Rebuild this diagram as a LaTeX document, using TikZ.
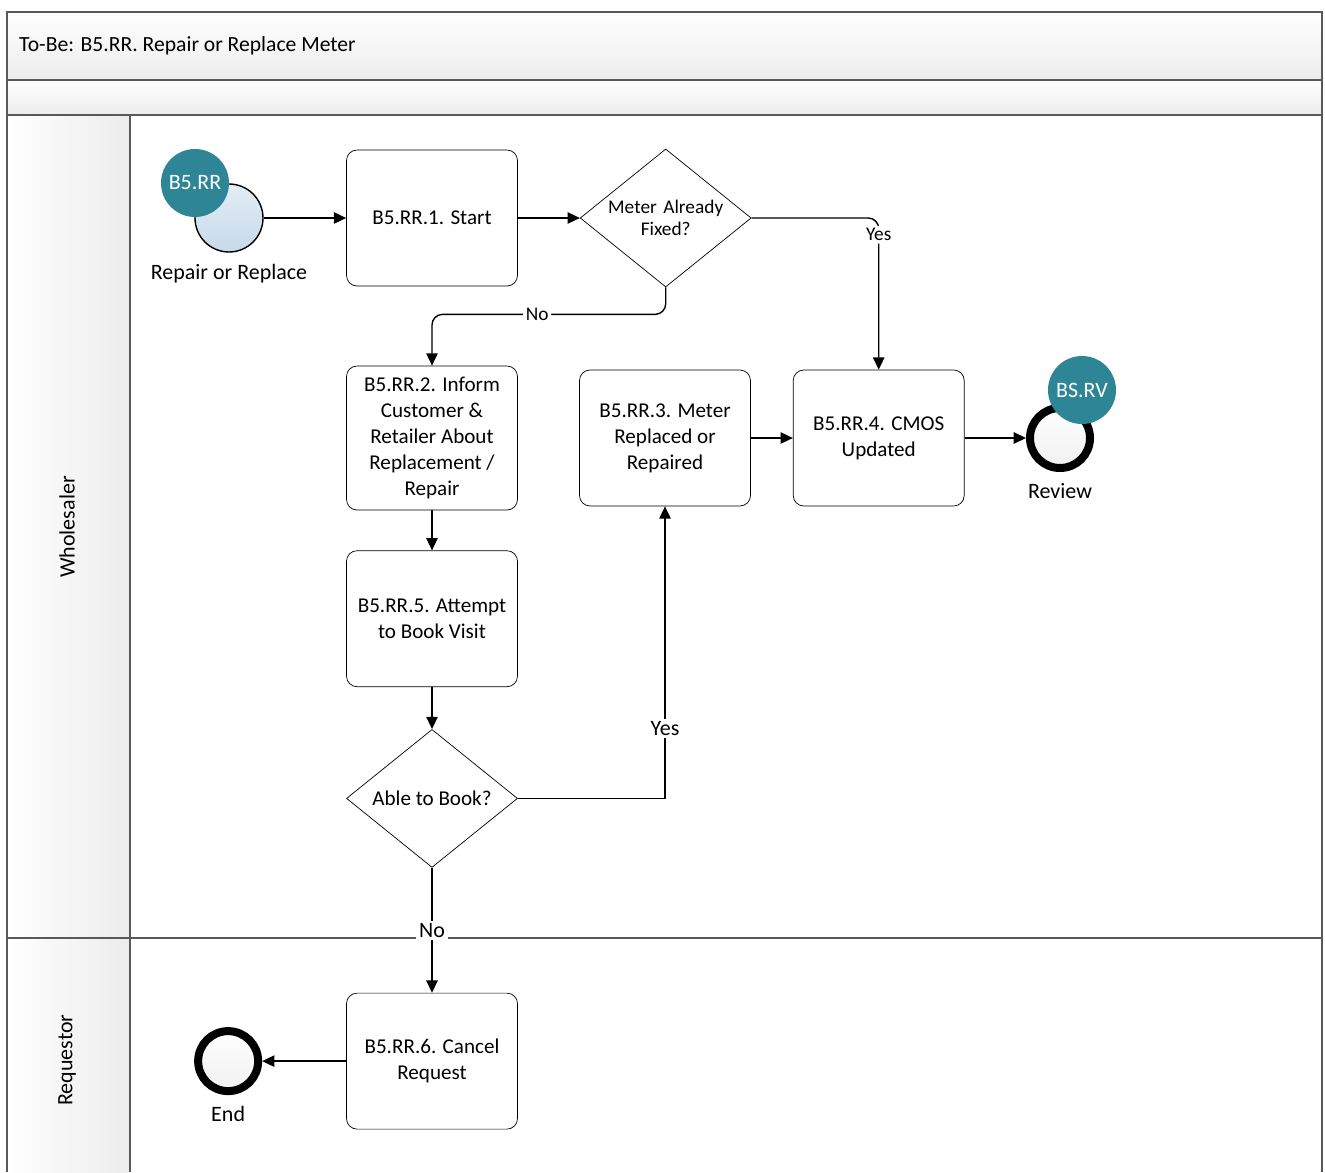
\documentclass[tikz,border=0pt]{standalone}
\usepackage{fontspec}
\setmainfont{Carlito}
\usetikzlibrary{arrows.meta, positioning, shapes.geometric}
\definecolor{badge}{HTML}{2E8596}
\definecolor{laneline}{HTML}{595959}
\definecolor{starttop}{HTML}{E3EDF5}
\definecolor{startbot}{HTML}{C6DAEA}
\definecolor{bandgray}{HTML}{ECECEC}

\begin{document}
\begin{tikzpicture}[
    >={Triangle[length=7pt,width=6.5pt]},
    task/.style={draw, rounded corners=6pt, minimum width=3.42cm, minimum height=2.72cm,
                 align=center, inner sep=2pt, font=\fontsize{12}{14.8}\selectfont},
    gate/.style={draw, diamond, aspect=1.25, minimum width=3.42cm, minimum height=2.76cm,
                 inner sep=0pt, align=center, font=\fontsize{12}{14.8}\selectfont},
    startev/.style={draw, circle, minimum size=1.36cm, line width=0.8pt,
                    top color=starttop, bottom color=startbot},
    endev/.style={draw, circle, minimum size=1.2cm, line width=0.16cm,
                  top color=white, bottom color=gray!12},
    badgenode/.style={circle, fill=badge, minimum size=1.36cm, inner sep=0pt,
                      text=white, font=\fontsize{12.5}{14}\selectfont},
    evlabel/.style={font=\fontsize{12.5}{14}\selectfont},
    flow/.style={->, line width=0.8pt},
    edgelabel/.style={fill=white, inner sep=1.5pt, font=\fontsize{11}{13}\selectfont},
    lanelabel/.style={rotate=90, font=\fontsize{12.5}{14}\selectfont},
]
    \useasboundingbox (0,0) rectangle (26.5,-23.44);

    % Pool and lanes
    \shade[top color=white, bottom color=bandgray] (0.14,-0.24) rectangle (26.44,-1.6);
    \shade[top color=white, bottom color=bandgray] (0.14,-1.6) rectangle (26.44,-2.3);
    \shade[left color=white, right color=bandgray] (0.14,-2.3) rectangle (2.6,-23.44);
    \draw[laneline, line width=1pt] (0.14,-23.44) -- (0.14,-0.24) -- (26.44,-0.24) -- (26.44,-23.44);
    \draw[laneline, line width=1pt] (0.14,-1.6) -- (26.44,-1.6);
    \draw[laneline, line width=1pt] (0.14,-2.3) -- (26.44,-2.3);
    \draw[laneline, line width=1pt] (0.14,-18.76) -- (26.44,-18.76);
    \draw[laneline, line width=1pt] (2.6,-2.3) -- (2.6,-23.44);

    \node[anchor=west, font=\fontsize{12.3}{14}\selectfont] (title) at (0.26,-0.92) {To-Be: B5.RR. Repair or Replace Meter};
    \node[lanelabel] (wholesaler) at (1.34,-10.54) {Wholesaler};
    \node[lanelabel] (requestor) at (1.34,-21.2) {Requestor};

    % Wholesaler lane
    \node[startev] (start) at (4.58,-4.36) {};
    \node[badgenode] (badgeRR) at (3.9,-3.66) {B5.RR};
    \node[evlabel, below=3pt of start] (startlbl) {Repair or Replace};

    \node[task] (task1) at (8.64,-4.36) {B5.RR.1. Start};
    \node[gate, right=1.24cm of task1, text width=2.3cm, font=\fontsize{11}{12.5}\selectfont] (gate1) {Meter Already\\Fixed?};
    \node[task, minimum height=2.88cm] (task2) at (8.64,-8.76) {B5.RR.2. Inform\\Customer \&\\Retailer About\\Replacement /\\Repair};
    \node[task, below=0.8cm of task2] (task5) {B5.RR.5. Attempt\\to Book Visit};
    \node[gate, below=0.84cm of task5] (gate2) {Able to Book?};
    \node[task] (task3) at (13.3,-8.76) {B5.RR.3. Meter\\Replaced or\\Repaired};
    \node[task, right=0.84cm of task3] (task4) {B5.RR.4. CMOS\\Updated};

    \node[endev] (review) at (21.2,-8.76) {};
    \node[badgenode] (badgeRV) at (21.64,-7.8) {BS.RV};
    \node[evlabel, below=3pt of review] (reviewlbl) {Review};

    % Requestor lane
    \node[task, below=2.5cm of gate2] (task6) {B5.RR.6. Cancel\\Request};
    \node[endev, left=1.68cm of task6] (endnode) {};
    \node[evlabel, below=3pt of endnode] (endlbl) {End};

    \draw[flow] (start) -- (task1);
    \draw[flow] (task1) -- (gate1);
    \draw[flow, rounded corners=6pt] (gate1.east) -| node[edgelabel, pos=0.555] {Yes} (task4.north);
    \draw[flow, rounded corners=6pt] (gate1.south) -- ++(0,-0.54) -| node[edgelabel, pos=0.275] {No} (task2.north);
    \draw[flow] (task2) -- (task5);
    \draw[flow] (task5) -- (gate2);
    \draw[flow] (gate2.east) -| node[edgelabel, pos=0.62, font=\fontsize{12.5}{14}\selectfont] {Yes} (task3.south);
    \draw[flow] (gate2.south) -- node[edgelabel, font=\fontsize{12.5}{14}\selectfont] {No} (task6.north);
    \draw[flow] (task3) -- (task4);
    \draw[flow] (task4) -- (review);
    \draw[flow] (task6) -- (endnode);
\end{tikzpicture}
\end{document}
